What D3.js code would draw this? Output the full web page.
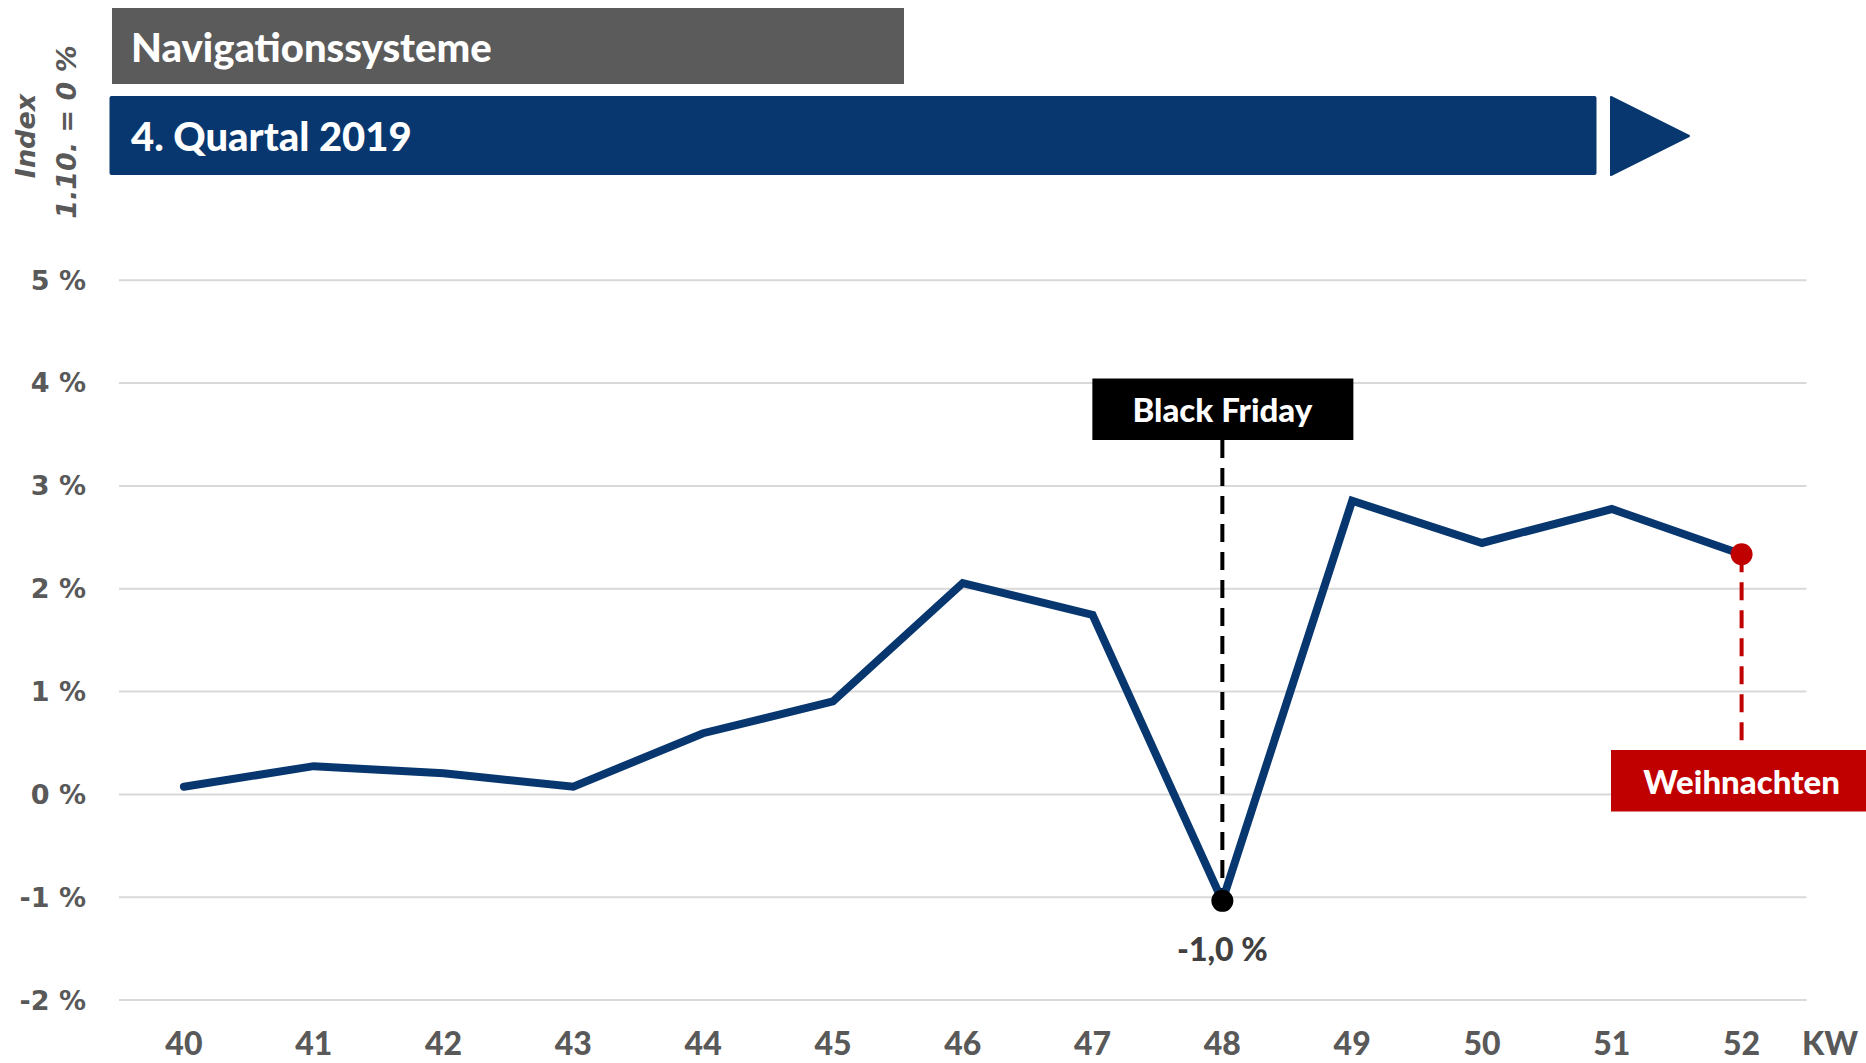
<!DOCTYPE html>
<html><head><meta charset="utf-8">
<script src="https://cdn.jsdelivr.net/npm/d3@7"></script>
<style>
body{margin:0;background:#fff;}
svg{display:block;}
</style></head>
<body>
<svg id="c" width="1866" height="1063"></svg>
<script>
const weeks = ["40","41","42","43","44","45","46","47","48","49","50","51","52"];
const values = [0.07,0.27,0.20,0.07,0.59,0.90,2.05,1.74,-1.04,2.85,2.44,2.77,2.33];
const yTicks = [-2,-1,0,1,2,3,4,5];
const title1 = "Navigationssysteme";
const title2 = "4. Quartal 2019";
const yLabel = ["Index","1.10. = 0 %"];
const xUnit = "KW";
const blackFridayWeek = "48";
const blackFridayLabel = "Black Friday";
const minLabel = "-1,0 %";
const xmasWeek = "52";
const xmasLabel = "Weihnachten";

const svg = d3.select("#c");
const NAVY = "#08376F", GREY = "#595959", RED = "#C00000";
const F = "Lato, 'Open Sans', sans-serif";
const W = 900;

const x = d3.scaleBand().domain(weeks).range([119, 1806.5]).padding(0);
const cx = d => x(d) + x.bandwidth()/2;
const y = d3.scaleLinear().domain([-2,5]).range([999.6, 279.7]);

// gridlines
const yAxis = d3.axisLeft(y).tickValues(yTicks).tickSize(-(1806.5-119)).tickPadding(33)
  .tickFormat(d => d + " %");
const gy = svg.append("g").attr("transform","translate(119,0)").call(yAxis);
gy.select(".domain").remove();
gy.selectAll(".tick line").attr("stroke","#d9d9d9").attr("stroke-width",2);
gy.selectAll(".tick text").attr("fill",GREY).attr("font-family","'DejaVu Sans', Verdana, sans-serif")
  .attr("font-weight","bold").attr("font-size",27).attr("dy","0.35em");

// x axis labels
const xAxis = d3.axisBottom(x).tickSize(0).tickPadding(0);
const gx = svg.append("g").attr("transform","translate(0,1032)").call(xAxis);
gx.select(".domain").remove();
gx.selectAll(".tick text").attr("fill",GREY).attr("font-family",F).attr("font-weight",W)
  .attr("font-size",32).attr("dy","0.71em");
svg.append("text").attr("x",1830).attr("y",1055).attr("text-anchor","middle")
  .attr("fill",GREY).attr("font-family",F).attr("font-weight",W).attr("font-size",32).text(xUnit);

// header boxes
svg.append("rect").attr("x",112).attr("y",8).attr("width",792).attr("height",76).attr("fill","#5B5B5B");
svg.append("text").attr("x",131).attr("y",62).attr("fill","#fff").attr("font-family",F)
  .attr("font-weight",W).attr("font-size",40).text(title1);
svg.append("rect").attr("x",109.5).attr("y",96).attr("width",1487).attr("height",79).attr("rx",2).attr("fill",NAVY);
svg.append("path").attr("d","M1611,97 L1689,136 L1611,175 Z").attr("fill",NAVY)
  .attr("stroke",NAVY).attr("stroke-width",2).attr("stroke-linejoin","round");
svg.append("text").attr("x",131).attr("y",151).attr("fill","#fff").attr("font-family",F)
  .attr("font-weight",W).attr("font-size",40).text(title2);

// y label
yLabel.forEach((t,i) => {
  svg.append("text").attr("transform",`translate(${[25,66][i]},${[136,132][i]}) rotate(-90)`)
    .attr("text-anchor","middle").attr("dominant-baseline","central")
    .attr("fill",GREY).attr("font-family","'DejaVu Sans', Verdana, sans-serif")
    .attr("font-weight","bold").attr("font-style","italic").attr("font-size",27).text(t);
});

// Black Friday annotation
const bfX = cx(blackFridayWeek), bfV = values[weeks.indexOf(blackFridayWeek)];
svg.append("line").attr("x1",bfX).attr("x2",bfX).attr("y1",440).attr("y2",y(bfV))
  .attr("stroke","#000").attr("stroke-width",4).attr("stroke-dasharray","18,10");

// line
const line = d3.line().x((d,i)=>cx(weeks[i])).y(d=>y(d));
svg.append("path").datum(values).attr("d",line).attr("fill","none").attr("stroke",NAVY)
  .attr("stroke-width",8).attr("stroke-linejoin","miter").attr("stroke-linecap","round");

svg.append("rect").attr("x",bfX-130).attr("y",378.5).attr("width",261).attr("height",61.5).attr("fill","#000");
svg.append("text").attr("x",bfX).attr("y",422).attr("text-anchor","middle").attr("fill","#fff")
  .attr("font-family",F).attr("font-weight",W).attr("font-size",33).text(blackFridayLabel);
svg.append("circle").attr("cx",bfX).attr("cy",y(bfV)).attr("r",11).attr("fill","#000");
svg.append("text").attr("x",bfX).attr("y",961).attr("text-anchor","middle").attr("fill","#404040")
  .attr("font-family",F).attr("font-weight",W).attr("font-size",32).text(minLabel);

// Christmas annotation
const xmX = cx(xmasWeek), xmV = values[weeks.indexOf(xmasWeek)];
svg.append("line").attr("x1",xmX).attr("x2",xmX).attr("y1",y(xmV)).attr("y2",745)
  .attr("stroke",RED).attr("stroke-width",4).attr("stroke-dasharray","18,10");
svg.append("circle").attr("cx",xmX).attr("cy",y(xmV)).attr("r",11).attr("fill",RED);
svg.append("rect").attr("x",1611).attr("y",750).attr("width",255).attr("height",61.5).attr("fill",RED);
svg.append("text").attr("x",xmX).attr("y",794).attr("text-anchor","middle").attr("fill","#fff")
  .attr("font-family",F).attr("font-weight",W).attr("font-size",33).text(xmasLabel);
</script>
</body></html>
